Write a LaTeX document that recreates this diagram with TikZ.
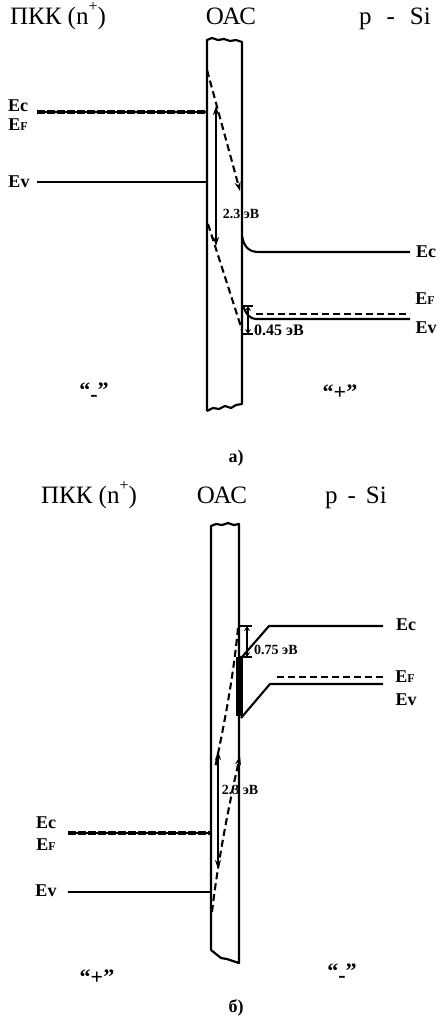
\documentclass[tikz,border=0pt]{standalone}
\usepackage{fontspec}
\setmainfont{Liberation Serif}
\usetikzlibrary{arrows.meta}
\newcommand{\nplus}{n\raisebox{0.5em}{\fontsize{16}{16}\selectfont +}}
\begin{document}
\begin{tikzpicture}[x=1pt,y=-1pt,
  title/.style={font=\fontsize{25}{28}\selectfont, anchor=base, inner sep=0pt},
  elab/.style={font=\fontsize{18}{18}\selectfont\bfseries, inner sep=0pt},
  evlab/.style={font=\fontsize{14}{14}\selectfont\bfseries, inner sep=0pt},
  sign/.style={font=\fontsize{22}{22}\selectfont\bfseries, inner sep=0pt},
  capt/.style={font=\fontsize{18}{18}\selectfont\bfseries, inner sep=0pt},
  band/.style={line width=2.1pt},
  thinband/.style={line width=1.8pt},
  oxide/.style={line width=2.2pt, line join=round},
  dsh/.style={line width=2.1pt, dash pattern=on 7pt off 4pt},
  heavydsh/.style={line width=3.6pt, dash pattern=on 8pt off 2pt},
  tip/.style={-{Stealth[length=9pt,width=6pt]}},
  dbl/.style={line width=1.6pt, {Stealth[length=9pt,width=6pt]}-{Stealth[length=9pt,width=6pt]}},
  small/.style={line width=1.4pt, {Stealth[length=5pt,width=6pt]}-{Stealth[length=5pt,width=6pt]}},
  tickline/.style={line width=1.5pt}
]
\fill[white] (0,0) rectangle (440,1021);
\useasboundingbox (0,0) rectangle (440,1021);

% ================= Panel a =================
\node[title] (ta1) at (58,24) {ПКК (\nplus)};
\node[title] (ta2) at (231,24) {ОАС};
\node[title] (ta3) at (395,24) {p\hspace{0.6em}-\hspace{0.6em}Si};

% oxide
\draw[oxide] (207,411) -- (207,40) -- (212,38) -- (218,40) -- (224,39) -- (230,41) -- (236,40) -- (242,42)
  -- (242,404) -- (236,405) -- (231,408) -- (225,406) -- (219,409) -- (213,408) -- (207,411);

% left levels
\coordinate (aLc1) at (37,112); \coordinate (aLc2) at (207,112);
\coordinate (aLv1) at (37,182); \coordinate (aLv2) at (207,182);
\draw[thinband] (aLc1) -- (aLc2);
\draw[heavydsh] (aLc1) -- (aLc2);
\draw[band] (aLv1) -- (aLv2);
\node[elab] (aEc) at (18,106) {Ec};
\node[elab] (aEf) at (18,125) {E{\fontsize{12}{12}\selectfont F}};
\node[elab] (aEv) at (19,182) {Ev};

% oxide bands
\coordinate (aoc1) at (207,70); \coordinate (aoc2) at (240,191);
\coordinate (aov1) at (208,224); \coordinate (aov2) at (242,330);
\draw[dsh, tip] (aoc1) -- (aoc2);
\draw[dsh] (aov1) -- (aov2);
\coordinate (ag1) at (216,106); \coordinate (ag2) at (216,246);
\draw[dbl] (ag1) -- (ag2);
\node[evlab] (a23) at (241,214) {2.3 эВ};

% right levels
\coordinate (aRc0) at (242,236); \coordinate (aRc1) at (259,252); \coordinate (aRc2) at (410,252);
\draw[band] (aRc0) .. controls (244,248) and (250,252) .. (aRc1) -- (aRc2);
\coordinate (aRf1) at (256,314); \coordinate (aRf2) at (410,314);
\draw[dsh] (aRf1) -- (aRf2);
\coordinate (aRv0) at (243,306); \coordinate (aRv1) at (256,319); \coordinate (aRv2) at (410,319);
\draw[band] (aRv0) .. controls (246,314) and (250,319) .. (aRv1) -- (aRv2);
\node[elab] (aREc) at (426,252) {Ec};
\node[elab] (aREf) at (425,299) {E{\fontsize{12}{12}\selectfont F}};
\node[elab] (aREv) at (426,328) {Ev};

% 0.45 bracket
\coordinate (ab1) at (248,306); \coordinate (ab2) at (248,334);
\coordinate (abt1) at (242,306); \coordinate (abt2) at (253,306);
\coordinate (abb1) at (242,334); \coordinate (abb2) at (253,334);
\draw[tickline] (abt1) -- (abt2);
\draw[tickline] (abb1) -- (abb2);
\draw[small] (ab1) -- (ab2);
\node[evlab, anchor=west, font=\fontsize{16}{16}\selectfont\bfseries] (a045) at (254,330) {0.45 эВ};

\node[sign] (aminus) at (94,392) {“\raisebox{-0.35ex}{-}”};
\node[sign] (aplus) at (340,392) {“+”};
\node[capt] (acap) at (236,458) {а)};

% ================= Panel b =================
\node[title] (tb1) at (89,503) {ПКК (\nplus)};
\node[title] (tb2) at (222,503) {ОАС};
\node[title] (tb3) at (356,503) {p\hspace{0.4em}-\hspace{0.4em}Si};

% oxide
\draw[oxide] (211,950) -- (211,526) -- (216,524) -- (222,525) -- (228,523) -- (234,525) -- (239,524)
  -- (239,963) -- (233,961) -- (227,959) -- (221,958) -- (216,954) -- (211,950);

% black bar
\fill (236,657) rectangle (243,716);

% left levels
\coordinate (bLc1) at (68,833); \coordinate (bLc2) at (211,833);
\coordinate (bLv1) at (68,892); \coordinate (bLv2) at (211,892);
\draw[thinband] (bLc1) -- (bLc2);
\draw[heavydsh] (bLc1) -- (bLc2);
\draw[band] (bLv1) -- (bLv2);
\node[elab] (bEc) at (46,823) {Ec};
\node[elab] (bEf) at (46,845) {E{\fontsize{12}{12}\selectfont F}};
\node[elab] (bEv) at (46,891) {Ev};

% oxide bands
\coordinate (boc1) at (238,628); \coordinate (boc2) at (215,768);
\draw[dsh] (boc1) .. controls (233,680) and (224,725) .. (boc2);
\coordinate (bov1) at (212,912); \coordinate (bov2) at (240,756);
\draw[dsh, tip] (bov1) .. controls (218,860) and (230,800) .. (bov2);
\coordinate (bg1) at (218,751); \coordinate (bg2) at (218,869);
\draw[dbl] (bg1) -- (bg2);
\node[evlab] (b23) at (240,790) {2.3 эВ};

% right levels
\coordinate (bRc0) at (242,657); \coordinate (bRc1) at (269,626); \coordinate (bRc2) at (383,626);
\draw[band, line join=round] (bRc0) -- (bRc1) -- (bRc2);
\coordinate (bRf1) at (277,677); \coordinate (bRf2) at (383,677);
\draw[dsh] (bRf1) -- (bRf2);
\coordinate (bRv0) at (241,718); \coordinate (bRv1) at (270,684); \coordinate (bRv2) at (383,684);
\draw[band, line join=round] (bRv0) -- (bRv1) -- (bRv2);
\node[elab] (bREc) at (406,625) {Ec};
\node[elab] (bREf) at (405,677) {E{\fontsize{12}{12}\selectfont F}};
\node[elab] (bREv) at (406,700) {Ev};

% 0.75 bracket
\coordinate (bb1) at (247,626); \coordinate (bb2) at (247,657);
\coordinate (bbt1) at (239,626); \coordinate (bbt2) at (252,626);
\coordinate (bbb1) at (240,657); \coordinate (bbb2) at (252,657);
\draw[tickline] (bbt1) -- (bbt2);
\draw[tickline] (bbb1) -- (bbb2);
\draw[small] (bb1) -- (bb2);
\node[evlab, anchor=west] (b075) at (254,650) {0.75 эВ};

\node[sign] (bplus) at (97,977) {“+”};
\node[sign] (bminus) at (342,973) {“\raisebox{-0.35ex}{-}”};
\node[capt] (bcap) at (236,1008) {б)};
\end{tikzpicture}
\end{document}
